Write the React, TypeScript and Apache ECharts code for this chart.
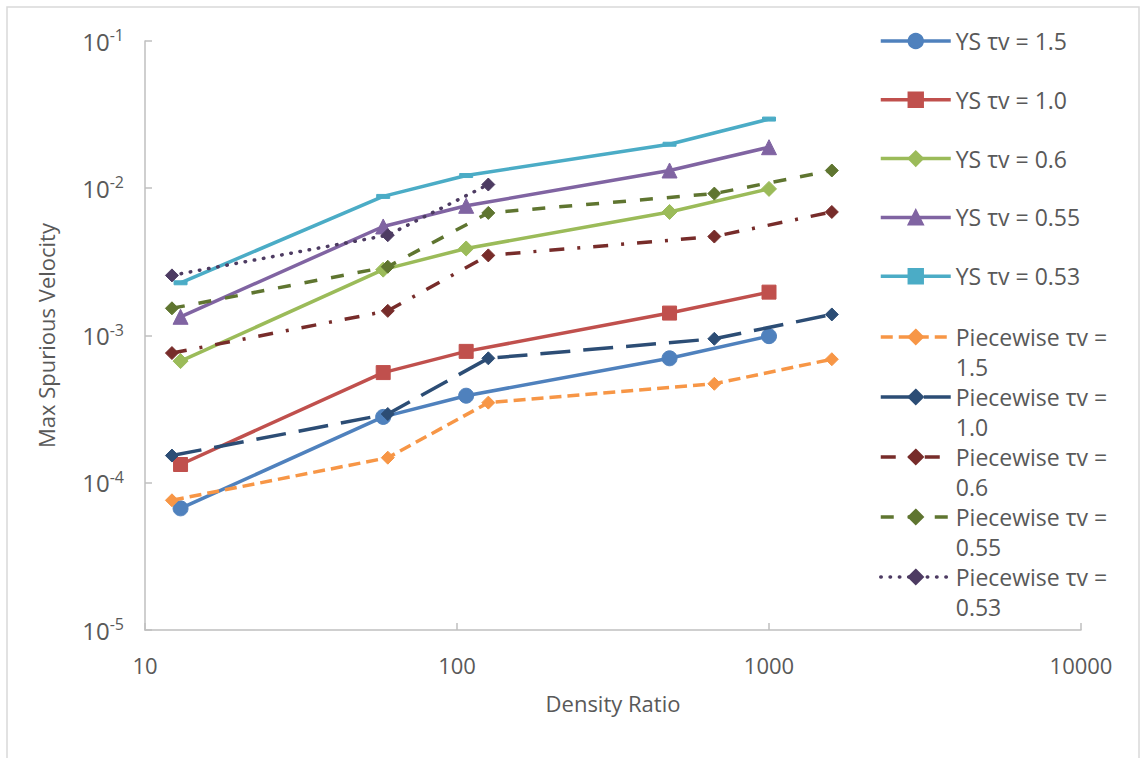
import { useEffect, useRef } from 'react';
import * as echarts from 'echarts';

// Density ratios at which each method was run
const densityYS = [13, 58, 107, 480, 1000];
const densityPW = [12.2, 60, 126, 668, 1590];

// Max spurious velocity, YS model
const ysTau150 = [6.7e-5, 2.8e-4, 3.9e-4, 7.0e-4, 9.9e-4];
const ysTau100 = [1.33e-4, 5.6e-4, 7.8e-4, 1.42e-3, 1.97e-3];
const ysTau060 = [6.7e-4, 2.8e-3, 3.9e-3, 6.9e-3, 9.9e-3];
const ysTau055 = [1.34e-3, 5.5e-3, 7.6e-3, 1.32e-2, 1.9e-2];
const ysTau053 = [2.28e-3, 8.8e-3, 1.22e-2, 1.99e-2, 2.95e-2];

// Max spurious velocity, piecewise model
const pwTau150 = [7.6e-5, 1.48e-4, 3.5e-4, 4.7e-4, 6.9e-4];
const pwTau100 = [1.53e-4, 2.93e-4, 7.0e-4, 9.5e-4, 1.39e-3];
const pwTau060 = [7.6e-4, 1.47e-3, 3.5e-3, 4.7e-3, 6.9e-3];
const pwTau055 = [1.53e-3, 2.93e-3, 6.8e-3, 9.2e-3, 1.32e-2];
const pwTau053 = [2.56e-3, 4.8e-3, 1.06e-2];

const seriesNames = [
  'YS τv = 1.5',
  'YS τv = 1.0',
  'YS τv = 0.6',
  'YS τv = 0.55',
  'YS τv = 0.53',
  'Piecewise τv = 1.5',
  'Piecewise τv = 1.0',
  'Piecewise τv = 0.6',
  'Piecewise τv = 0.55',
  'Piecewise τv = 0.53',
];

const xTickValues = [10, 100, 1000, 10000];

const TEXT = '#595959';
const AXIS = '#BFBFBF';
const FONT = '"Open Sans", sans-serif';
const DASH_MARK = 'path://M0,0H13V4H0Z';

type Def = {
  x: number[];
  y: number[];
  color: string;
  symbol: string;
  size: number;
  dash: 'solid' | number[];
  cap?: 'butt' | 'round';
};

const defs: Def[] = [
  { x: densityYS, y: ysTau150, color: '#4F81BD', symbol: 'circle', size: 15, dash: 'solid' },
  { x: densityYS, y: ysTau100, color: '#C0504D', symbol: 'rect', size: 14, dash: 'solid' },
  { x: densityYS, y: ysTau060, color: '#9BBB59', symbol: 'diamond', size: 15, dash: 'solid' },
  { x: densityYS, y: ysTau055, color: '#8064A2', symbol: 'triangle', size: 15, dash: 'solid' },
  { x: densityYS, y: ysTau053, color: '#4BACC6', symbol: DASH_MARK, size: 13, dash: 'solid' },
  { x: densityPW, y: pwTau150, color: '#F79646', symbol: 'diamond', size: 13, dash: [12, 6] },
  { x: densityPW, y: pwTau100, color: '#2C4D75', symbol: 'diamond', size: 13, dash: [30, 13] },
  { x: densityPW, y: pwTau060, color: '#772C2A', symbol: 'diamond', size: 13, dash: [15, 13, 3, 13] },
  { x: densityPW, y: pwTau055, color: '#5F7530', symbol: 'diamond', size: 13, dash: [13, 14] },
  { x: densityPW, y: pwTau053, color: '#4D3B62', symbol: 'diamond', size: 13, dash: [0.5, 8.8], cap: 'round' },
];

export default function App() {
  const ref = useRef<HTMLDivElement>(null);

  useEffect(() => {
    if (!ref.current) return;
    const chart = echarts.init(ref.current, undefined, { renderer: 'svg' });

    const series = defs.map((d, i) => ({
      name: seriesNames[i],
      type: 'line',
      data: d.y.map((v, k) => [d.x[k], v]),
      symbol: d.symbol,
      symbolSize: d.size,
      symbolKeepAspect: true,
      showAllSymbol: true,
      lineStyle: { color: d.color, width: 3.5, type: d.dash, cap: d.cap ?? 'butt' },
      itemStyle: { color: d.color, borderColor: d.color, borderWidth: 1 },
      emphasis: { disabled: true },
      z: 2 + i,
    }));

    // One legend block per entry so each row sits on its own baseline.
    // Two-line entries get an empty leading line so their first line
    // lines up with the swatch.
    const legends = seriesNames.map((name, i) => {
      const twoLine = name.startsWith('Piecewise');
      const center = i < 5 ? 41 + i * 58.8 : 337 + (i - 5) * 60;
      const d = defs[i];
      return {
        orient: 'vertical',
        left: 879,
        top: center - (twoLine ? 45 : 15),
        padding: 0,
        itemWidth: 70,
        itemHeight: 18,
        selectedMode: false,
        data: [name],
        lineStyle: { width: 3.5, type: d.dash, cap: d.cap ?? 'butt' },
        formatter: (n: string) => (twoLine ? '\n' + n.replace('= ', '=\n') : n),
        textStyle: {
          color: TEXT,
          fontFamily: FONT,
          fontSize: 23,
          lineHeight: 30,
        },
      };
    });

    chart.setOption({
      animation: false,
      backgroundColor: '#fff',
      textStyle: { fontFamily: FONT },
      grid: { left: 145, right: 60, top: 41, bottom: 128, containLabel: false },
      legend: legends,
      graphic: [
        {
          type: 'rect',
          shape: { x: 7, y: 7, width: 1132, height: 760 },
          style: { fill: 'none', stroke: '#D9D9D9', lineWidth: 1.5 },
          silent: true,
        },
      ],
      xAxis: {
        type: 'log',
        logBase: 10,
        min: xTickValues[0],
        max: xTickValues[xTickValues.length - 1],
        name: 'Density Ratio',
        nameLocation: 'middle',
        nameGap: 62,
        nameTextStyle: { color: TEXT, fontSize: 22, fontFamily: FONT },
        axisLine: { lineStyle: { color: AXIS, width: 1.5 } },
        axisTick: { inside: true, length: 7, lineStyle: { color: AXIS, width: 1.5 } },
        minorTick: { show: false },
        splitLine: { show: false },
        axisLabel: {
          color: TEXT,
          fontSize: 22,
          fontFamily: FONT,
          margin: 24,
          formatter: (v: number) => String(Math.round(v)),
        },
      },
      yAxis: {
        type: 'log',
        logBase: 10,
        min: 1e-5,
        max: 1e-1,
        name: 'Max Spurious Velocity',
        nameLocation: 'middle',
        nameGap: 88,
        nameRotate: 90,
        nameTextStyle: { color: TEXT, fontSize: 22, fontFamily: FONT },
        axisLine: { show: true, lineStyle: { color: AXIS, width: 1.5 } },
        axisTick: { show: true, inside: true, length: 7, lineStyle: { color: AXIS, width: 1.5 } },
        minorTick: { show: false },
        splitLine: { show: false },
        axisLabel: {
          margin: 21,
          formatter: (v: number) => `{b|10}{s|${Math.round(Math.log10(v))}}`,
          rich: {
            b: { color: TEXT, fontSize: 24, fontFamily: FONT, lineHeight: 28 },
            s: { color: TEXT, fontSize: 16, fontFamily: FONT, lineHeight: 15, verticalAlign: 'top' },
          },
        },
      },
      series,
    });

    return () => chart.dispose();
  }, []);

  return (
    <div
      ref={ref}
      style={{ position: 'absolute', left: 0, top: 0, width: 1141, height: 758 }}
    />
  );
}
